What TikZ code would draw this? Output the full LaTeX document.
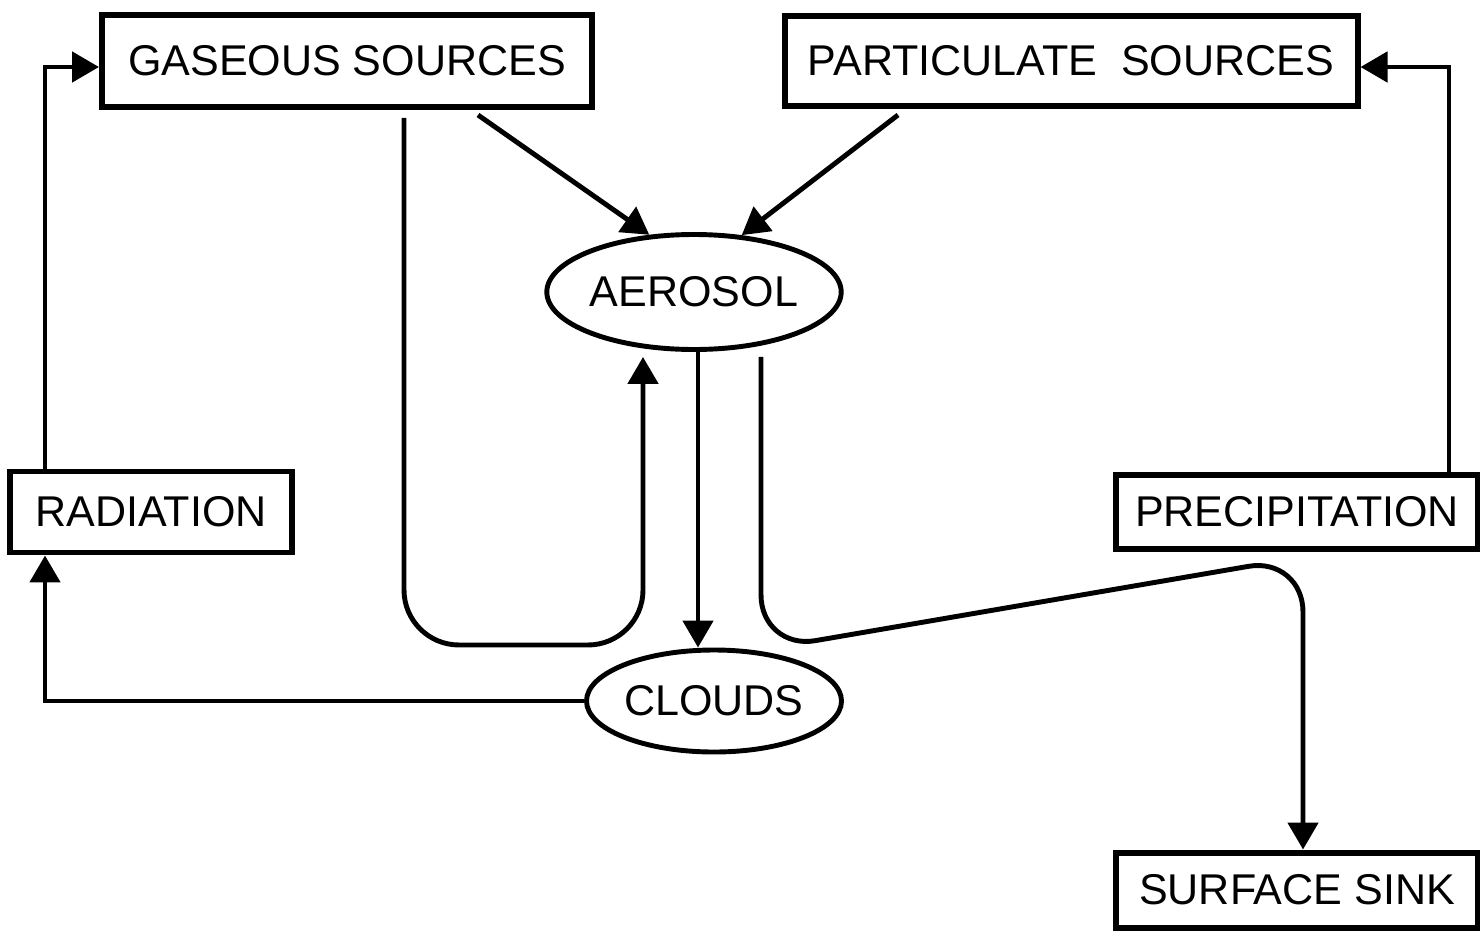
\documentclass[tikz,border=0pt]{standalone}
\usepackage{fontspec}
\setmainfont{Liberation Sans}
\usepackage{tikz}
\usetikzlibrary{shapes.geometric, arrows.meta}
\tikzstyle{block} = [rectangle, 
inner sep=0pt, 
minimum height=1.8cm, 
text centered, 
line width=3.4pt, 
draw=black, 
fill=white]
\tikzstyle{oval} = [ellipse, 
inner sep=0pt, 
text centered, 
line width=2.8pt, 
draw=black, 
fill=white]
\tikzstyle{arrow} = [line width=2.8pt,-{Triangle[length=0.54cm,width=0.6cm]}]

\begin{document}
\begin{tikzpicture}[node distance=2cm, font=\fontsize{24.5}{28}\selectfont]
\useasboundingbox (0,0) rectangle (29.6,-18.62);

\node (gas) [block, minimum width=9.8cm, minimum height=1.84cm] at (6.94,-1.22) {GASEOUS SOURCES};
\node (part) [block, right of=gas, xshift=12.48cm, minimum width=11.46cm] {PARTICULATE\ \ SOURCES};

\node (aero) [oval, below of=gas, xshift=6.94cm, yshift=-2.62cm, minimum width=5.64cm, minimum height=2.3cm] {AEROSOL};
\node (clouds) [oval, below of=aero, xshift=0.4cm, yshift=-6.18cm, minimum width=5.1cm, minimum height=2.04cm] {CLOUDS};

\node (rad) [block, below of=gas, xshift=-3.92cm, yshift=-7.02cm, minimum width=5.64cm, minimum height=1.62cm] {RADIATION};
\node (precip) [block, below of=part, xshift=4.52cm, yshift=-7.02cm, minimum width=7.24cm, minimum height=1.48cm] {PRECIPITATION};
\node (sink) [block, below of=precip, xshift=0cm, yshift=-5.56cm, minimum width=7.24cm, minimum height=1.5cm] {SURFACE SINK};

\draw [arrow] ([xshift=0.76cm]rad.north west) |- ([yshift=-0.12cm]gas.west);
\draw [arrow] (clouds.west) -| ([xshift=0.76cm]rad.south west);
\draw [arrow] ([xshift=2.62cm,yshift=-0.1cm]gas.south) -- (aero.128);
\draw [arrow] ([xshift=-3.46cm,yshift=-0.12cm]part.south) -- (aero.50);
\draw [arrow, rounded corners=1.1cm] ([xshift=1.14cm,yshift=-0.16cm]gas.south) -- ++(0,-10.54) -| ([xshift=-1.02cm,yshift=-0.1cm]aero.south);
\draw [arrow] ([xshift=0.08cm]aero.south) -- ([xshift=0.08cm]aero.south |- clouds.north);
\draw [arrow, rounded corners=1.1cm] ([xshift=1.34cm,yshift=-0.1cm]aero.south) -- ++(0,-5.86) -- ([xshift=0.12cm,yshift=-0.1cm]precip.south) -- ([xshift=0.12cm]sink.north);
\draw [arrow] ([xshift=3.04cm]precip.north) |- ([yshift=-0.12cm]part.east);

\end{tikzpicture}
\end{document}
